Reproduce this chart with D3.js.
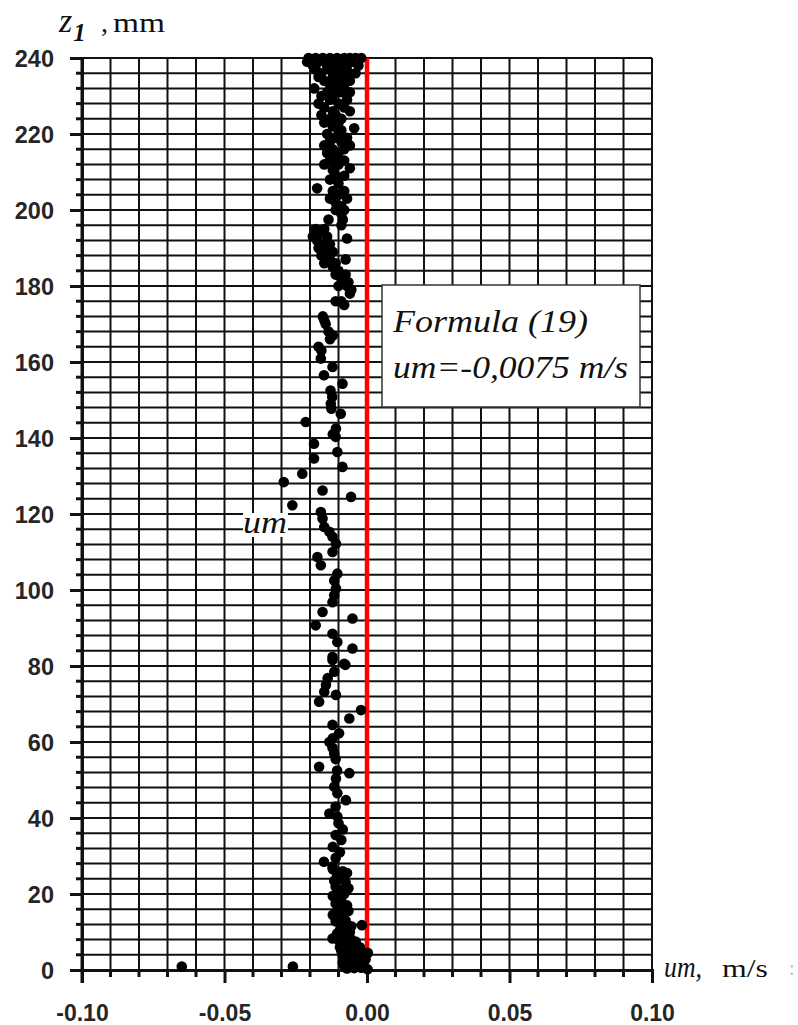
<!DOCTYPE html>
<html>
<head>
<meta charset="utf-8">
<script src="https://cdn.jsdelivr.net/npm/d3@7"></script>
<style>
  html, body { margin: 0; padding: 0; background: #fff; }
  svg { display: block; }
</style>
</head>
<body>
<svg id="chart" width="798" height="1025"></svg>
<script>
// ---------------- DATA ----------------
const xTickValues = [-0.10, -0.05, 0.00, 0.05, 0.10];
const xTickLabels = ["-0.10", "-0.05", "0.00", "0.05", "0.10"];
const yTickValues = [0, 20, 40, 60, 80, 100, 120, 140, 160, 180, 200, 220, 240];
const yTickLabels = ["0", "20", "40", "60", "80", "100", "120", "140", "160", "180", "200", "220", "240"];
const formulaValue = -0.0075;
const redLineValue = 0.0;

// measured points: depth z1 (mm)
const zValues = [
  240,240,240,240,240,240,240,240,240,
  239,239,239,239,239,
  238,238,238,238,238,
  237,237,237,
  236,236,236,236,
  235,235,235,
  234,234,234,
  233,233,
  232,232,
  231,231,231,
  230,230,
  229,229,
  228,228,
  227,227,
  226,226,
  225,225,
  224,224,
  223,223,
  222,221.5,221,
  220,220,
  219,219,
  218,218,
  217,217,
  216,216,
  215,215,
  214,
  213,213,
  212,212,
  211,210.5,
  209,209,
  208,207,205.7,
  205,205,
  204,
  203,203,
  202,201,
  200,200,
  199,
  197.5,197.5,
  196,
  195,195,
  194,
  193,193,
  192.5,192,
  191,191,
  190,
  189,189,
  188,
  187,187,
  186,186,
  185,184,
  183,183,
  182,181,
  180,180,
  179,178,
  176,176,
  175,172,171,170,168,167,166,164,163,
  160.9,158.7,156.5,154.3,152.5,150.8,149,147.7,146.4,144.2,142.5,141,140.3,138.5,136.3,134.6,132.4,130.6,128.4,126.2,124.5,122.3,
  120.5,118.8,116.6,115.3,114,112.2,110,108.7,106.5,104.3,102.5,100.4,98.6,96.8,94.2,92.5,90.7,88.5,86.3,84.6,82.4,80.6,
  81.6,80.3,78.5,76.8,75,73.2,72.4,70.6,68.4,66.2,64.5,62.3,61,60,58.5,57,55.5,53.5,52.5,51.8,50.4,48.2,46.5,44.7,43,41.2,40.4,
  38.6,37,35.5,34.2,32.4,31,29.5,28.5,27.2,26,25,24,23,22,21,20,19,18,17,16,15,14,13,12.3,11.8,11,10,9.6,8.3,7.5,7,6,5.5,5,
  4.5,4,3.5,3,2.5,2,1.5,1,1,0.5,0.9,0.9,
  12,11.5,10.5,9,8.5,7.8,6.5,6,4.8,3.8,3.2,2.2,1.8,1.2,0.6,0.4,0.2,4.5,2.8,
  26.5,25.5,23.5,21.5,19.5,17.5,15.5,14.5,12.8
];

// measured points: velocity u_m (m/s)
const umValues = [
  -0.0205,-0.018,-0.0155,-0.013,-0.0105,-0.008,-0.006,-0.004,-0.002,
  -0.021,-0.017,-0.012,-0.009,-0.005,
  -0.019,-0.014,-0.010,-0.007,-0.003,
  -0.018,-0.013,-0.008,
  -0.016,-0.011,-0.006,-0.004,
  -0.017,-0.012,-0.009,
  -0.015,-0.010,-0.006,
  -0.013,-0.008,
  -0.0185,-0.011,
  -0.014,-0.009,-0.006,
  -0.016,-0.012,
  -0.013,-0.007,
  -0.017,-0.010,
  -0.015,-0.008,
  -0.012,-0.006,
  -0.016,-0.011,
  -0.013,-0.009,
  -0.015,-0.010,
  -0.012,-0.0045,-0.009,
  -0.014,-0.010,
  -0.011,-0.007,
  -0.013,-0.009,
  -0.015,-0.006,
  -0.012,-0.008,
  -0.014,-0.010,
  -0.011,
  -0.013,-0.008,
  -0.015,-0.010,
  -0.006,-0.012,
  -0.011,-0.008,
  -0.013,-0.010,-0.0175,
  -0.012,-0.008,
  -0.010,
  -0.013,-0.007,
  -0.011,-0.009,
  -0.011,-0.008,
  -0.009,
  -0.0135,-0.0085,
  -0.009,
  -0.018,-0.015,
  -0.0165,
  -0.019,-0.014,
  -0.007,-0.0175,
  -0.015,-0.013,
  -0.017,
  -0.014,-0.012,
  -0.016,
  -0.0075,-0.013,
  -0.015,-0.011,
  -0.012,-0.010,
  -0.011,-0.0075,
  -0.009,-0.0065,
  -0.010,-0.007,
  -0.0055,-0.006,
  -0.009,-0.011,
  -0.008,-0.0155,-0.015,-0.0145,-0.0135,-0.012,-0.013,-0.017,-0.016,
  -0.0162,-0.0121,-0.0151,-0.0086,-0.0128,-0.0122,-0.0127,-0.0125,-0.0092,-0.0215,-0.0109,-0.0120,-0.0110,-0.0186,-0.0104,-0.0186,-0.0086,-0.0227,-0.0292,-0.0156,-0.0056,-0.0262,
  -0.0162,-0.0156,-0.0150,-0.0132,-0.0121,-0.0109,-0.0121,-0.0174,-0.0162,-0.0104,-0.0115,-0.0109,-0.0115,-0.0121,-0.0156,-0.0051,-0.0180,-0.0121,-0.0104,-0.0051,-0.0121,-0.0080,
  -0.0121,-0.0076,-0.0115,-0.0138,-0.0144,-0.0150,-0.0109,-0.0168,-0.0021,-0.0062,-0.0121,-0.0098,-0.0120,-0.0132,-0.0121,-0.0115,-0.0110,-0.0168,-0.0105,-0.0062,-0.0109,-0.0115,-0.0104,-0.0074,-0.0110,-0.0132,-0.0104,
  -0.0100,-0.0085,-0.0110,-0.0090,-0.0120,-0.0095,-0.0110,-0.0151,-0.0121,-0.0085,-0.0105,-0.0090,-0.0075,-0.0110,-0.0095,-0.0080,-0.0105,-0.0090,-0.0070,-0.0100,-0.0085,-0.0105,-0.0075,-0.0095,-0.0018,-0.0085,-0.0060,-0.0105,-0.0121,-0.0040,-0.0075,-0.0025,-0.0055,-0.0090,
  -0.0010,-0.0040,-0.0070,-0.0020,-0.0050,-0.0085,-0.0030,-0.0015,-0.0060,-0.0045,-0.0650,-0.0260,
  -0.0080,-0.0055,-0.0095,-0.0085,-0.0060,-0.0100,-0.0065,-0.0095,-0.0060,-0.0085,-0.0055,-0.0065,-0.0025,-0.0080,-0.0020,-0.0070,0.0002,0.0003,-0.0005,
  -0.0120,-0.0070,-0.0115,-0.0065,-0.0120,-0.0110,-0.0065,-0.0120,-0.0110
];

// ---------------- CHART ----------------
const svg = d3.select("#chart");
const plotL = 82, plotR = 652, plotT = 58, plotB = 970;
const serif = "'Liberation Serif', 'Times New Roman', serif";

const x = d3.scaleLinear().domain([-0.10, 0.10]).range([plotL, plotR]);
const y = d3.scaleLinear().domain([0, 240]).range([plotB, plotT]);

const gridX = d3.range(-10, 11).map(i => i / 100);
const gridY = d3.range(0, 61).map(i => i * 4);

const grid = svg.append("g");
grid.selectAll("line.h").data(gridY).join("line")
  .attr("x1", plotL).attr("x2", plotR)
  .attr("y1", d => y(d)).attr("y2", d => y(d))
  .attr("stroke", "#111").attr("stroke-width", 2);
grid.selectAll("line.v").data(gridX).join("line")
  .attr("x1", d => x(d)).attr("x2", d => x(d))
  .attr("y1", plotT).attr("y2", plotB)
  .attr("stroke", "#111").attr("stroke-width", 2);

// left axis
const yAxis = d3.axisLeft(y).tickValues(yTickValues).tickFormat((d, i) => yTickLabels[i]).tickSize(12).tickPadding(16);
const gy = svg.append("g").attr("transform", `translate(${plotL},0)`).call(yAxis);
gy.select(".domain").attr("stroke", "#111").attr("stroke-width", 3);
gy.selectAll(".tick line").attr("stroke", "#111").attr("stroke-width", 3);
gy.selectAll(".tick text")
  .attr("font-family", "'Liberation Sans', Arial, sans-serif")
  .attr("font-weight", "bold").attr("font-size", 23.5).attr("fill", "#262626")
  .attr("dy", "0.36em");
svg.append("g").selectAll("line").data(gridY.filter(d => d % 20 !== 0)).join("line")
  .attr("x1", plotL - 6).attr("x2", plotL)
  .attr("y1", d => y(d)).attr("y2", d => y(d))
  .attr("stroke", "#111").attr("stroke-width", 3);

// bottom axis
const xAxis = d3.axisBottom(x).tickValues(xTickValues).tickFormat((d, i) => xTickLabels[i]).tickSize(13).tickPadding(22);
const gx = svg.append("g").attr("transform", `translate(0,${plotB})`).call(xAxis);
gx.select(".domain").attr("stroke", "#111").attr("stroke-width", 3);
gx.selectAll(".tick line").attr("stroke", "#111").attr("stroke-width", 3);
gx.selectAll(".tick text")
  .attr("font-family", "'Liberation Sans', Arial, sans-serif")
  .attr("font-weight", "bold").attr("font-size", 23).attr("fill", "#262626");
svg.append("g").selectAll("line").data(gridX.filter(d => Math.round(d * 100) % 5 !== 0)).join("line")
  .attr("x1", d => x(d)).attr("x2", d => x(d))
  .attr("y1", plotB).attr("y2", plotB + 7)
  .attr("stroke", "#111").attr("stroke-width", 3);
svg.append("line").attr("x1", plotL).attr("x2", plotL).attr("y1", plotT).attr("y2", plotB + 13)
  .attr("stroke", "#111").attr("stroke-width", 3);

// red line
svg.append("line")
  .attr("x1", x(redLineValue)).attr("x2", x(redLineValue))
  .attr("y1", y(240)).attr("y2", y(0))
  .attr("stroke", "#ff0000").attr("stroke-width", 4.5);

// points
const pts = zValues.map((z, i) => ({ z: z, u: umValues[i] }));
svg.append("g").selectAll("circle").data(pts).join("circle")
  .attr("cx", d => x(d.u)).attr("cy", d => y(d.z))
  .attr("r", 5.3).attr("fill", "#000");

// "um" label inside plot
svg.append("rect").attr("x", 243).attr("y", 513).attr("width", 45).attr("height", 24).attr("fill", "#fff");
svg.append("text").attr("x", 243).attr("y", 533)
  .attr("font-family", serif)
  .attr("font-style", "italic").attr("font-size", 31).attr("fill", "#111")
  .attr("textLength", 44).attr("lengthAdjust", "spacingAndGlyphs")
  .text("um");

// legend box
svg.append("rect").attr("x", 382).attr("y", 285).attr("width", 258).attr("height", 122)
  .attr("fill", "#fff").attr("stroke", "#333").attr("stroke-width", 1.5);
svg.append("text").attr("x", 393).attr("y", 332)
  .attr("font-family", serif)
  .attr("font-style", "italic").attr("font-size", 32).attr("fill", "#111")
  .attr("textLength", 195).attr("lengthAdjust", "spacingAndGlyphs")
  .text("Formula (19)");
svg.append("text").attr("x", 393).attr("y", 378)
  .attr("font-family", serif)
  .attr("font-style", "italic").attr("font-size", 32).attr("fill", "#111")
  .attr("textLength", 235).attr("lengthAdjust", "spacingAndGlyphs")
  .text("um=" + d3.format(".4f")(formulaValue).replace(".", ",").replace("\u2212", "-") + " m/s");

// y axis title  z1 , mm
const zTitle = svg.append("text").attr("x", 59).attr("y", 32)
  .attr("font-family", serif).attr("font-style", "italic").attr("font-size", 34).attr("fill", "#111");
zTitle.append("tspan").text("z");
zTitle.append("tspan").attr("dx", 1).attr("dy", 9).attr("font-weight", "bold").attr("font-size", 25).text("1");
svg.append("text").attr("x", 101).attr("y", 32)
  .attr("font-family", serif).attr("font-size", 28).attr("fill", "#111").text(",");
svg.append("text").attr("x", 113).attr("y", 32)
  .attr("font-family", serif).attr("font-size", 28).attr("fill", "#111")
  .attr("textLength", 52).attr("lengthAdjust", "spacingAndGlyphs").text("mm");

// x axis title  um, m/s
svg.append("text").attr("x", 664).attr("y", 977)
  .attr("font-family", serif).attr("font-style", "italic").attr("font-size", 30).attr("fill", "#111")
  .attr("textLength", 38).attr("lengthAdjust", "spacingAndGlyphs").text("um,");
svg.append("text").attr("x", 722).attr("y", 977)
  .attr("font-family", serif).attr("font-size", 26).attr("fill", "#111")
  .attr("textLength", 46).attr("lengthAdjust", "spacingAndGlyphs").text("m/s");
svg.append("text").attr("x", 789).attr("y", 975)
  .attr("font-family", serif).attr("font-size", 20).attr("fill", "#bbb").text(":");
</script>
</body>
</html>
